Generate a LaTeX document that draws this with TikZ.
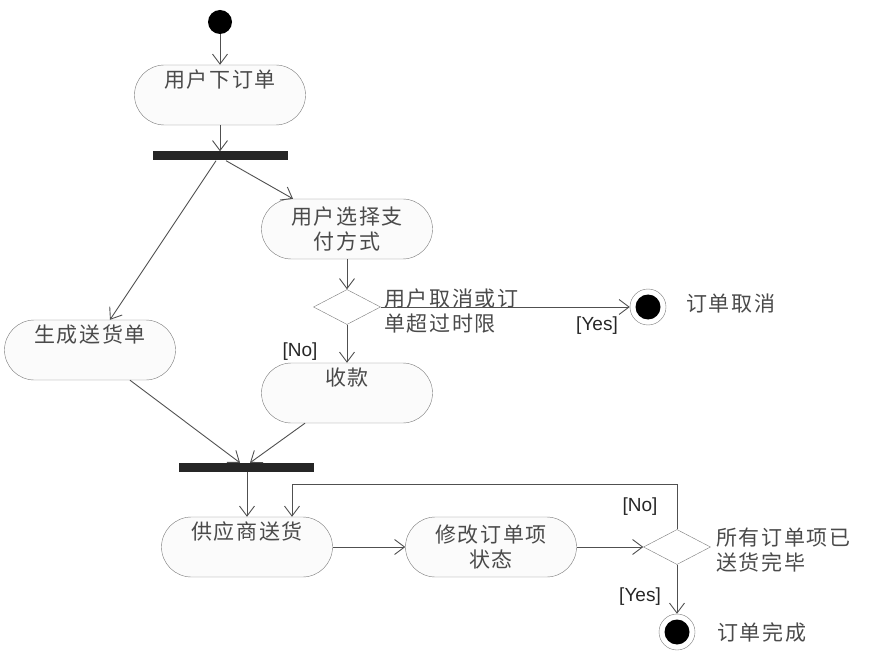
\documentclass[tikz,border=0pt]{standalone}
\usepackage{fontspec}
\setmainfont{Liberation Sans}
\newfontfamily\cjk[LetterSpace=8]{Noto Sans CJK SC}
\usetikzlibrary{shapes.misc,shapes.geometric,arrows.meta,positioning}

\definecolor{linegray}{HTML}{505050}
\definecolor{boxgray}{HTML}{7A7A7A}
\definecolor{boxfill}{HTML}{FBFBFB}
\definecolor{textgray}{HTML}{4A4A4A}

\tikzset{
  act/.style={rounded rectangle, draw=boxgray, fill=boxfill, minimum width=171pt,
    minimum height=60pt, inner sep=0pt, align=center,
    font={\cjk\fontsize{21}{25}\selectfont}, text=textgray},
  bar/.style={rectangle, fill=black!85, minimum width=135pt, minimum height=9pt, inner sep=0pt},
  decision/.style={diamond, draw=boxgray, fill=white, minimum width=67pt, minimum height=35pt, inner sep=0pt},
  startnode/.style={circle, fill=black, minimum size=24pt, inner sep=0pt},
  endnode/.style={circle, draw=boxgray, fill=white, minimum size=36pt, inner sep=0pt,
    path picture={\fill[black] (path picture bounding box.center) circle (12.5pt);}},
  note/.style={font={\cjk\fontsize{21}{25}\selectfont}, text=textgray, align=left, inner sep=0pt},
  guard/.style={font=\fontsize{19}{22}\selectfont, text=black!85, inner sep=0pt},
  flow/.style={draw=linegray, line width=0.9pt, -{Straight Barb[length=10pt,width=15pt,line width=0.9pt]}},
  plain/.style={draw=linegray, line width=0.9pt}
}

\begin{document}
\begin{tikzpicture}[x=1pt,y=-1pt]
  \useasboundingbox (0,0) rectangle (892,671);

  % 1. 起点与第一个分叉
  \node[startnode] (start) at (220,22) {};
  \node[act] (order) at (220,95) {用户下订单\\\strut};
  \node[bar] (fork) at (220,156) {};

  % 2. 两条并行分支
  \node[act] (pay) at (347,229) {用户选择支\\付方式};
  \node[decision] (cancel) at (347,307) {};
  \node[endnode] (cancelend) at (648,307) {};
  \node[act] (collect) at (347,393) {收款\\\strut};
  \node[act] (ship) at (90,350) {生成送货单\\\strut};

  % 3. 汇合后的送货流程
  \node[bar] (join) at (246,467.5) {};
  \node[act] (supply) at (247,547) {供应商送货\\\strut};
  \node[act] (modify) at (491,547) {修改订单项\\状态};
  \node[decision] (done) at (677,547) {};
  \node[endnode] (doneend) at (677,632) {};

  % 4. 说明文字
  \node[note, anchor=west] (cancelnote) at (384,311) {用户取消或订\\单超过时限};
  \node[note, anchor=west] (cancellabel) at (686,304) {订单取消};
  \node[note, anchor=west] (donenote) at (716,550) {所有订单项已\\送货完毕};
  \node[note, anchor=west] (donelabel) at (717,632) {订单完成};
  \node[guard] (cancelyes) at (597,326) {[Yes]};
  \node[guard] (cancelno) at (300,352) {[No]};
  \node[guard] (doneno) at (640,507) {[No]};
  \node[guard] (doneyes) at (640,597) {[Yes]};

  % 5. 连线
  \draw[flow] (start) -- (order.north);
  \draw[flow] (order.south) -- (fork.north);
  \draw[flow] ([xshift=-4pt]fork.south) -- ([xshift=20pt]ship.north);
  \draw[flow] ([xshift=6pt]fork.south) -- ([xshift=-54pt]pay.north);
  \draw[flow] (pay.south) -- (cancel.north);
  \draw[flow] (cancel.east) -- (cancelend.west);
  \draw[flow] (cancel.south) -- (collect.north);
  \draw[flow] ([xshift=40pt]ship.south) -- ([xshift=-6pt]join.north);
  \draw[flow] ([xshift=-42pt]collect.south) -- ([xshift=4pt]join.north);
  \draw[flow] ([xshift=1pt]join.south) -- (supply.north);
  \draw[flow] (supply.east) -- (modify.west);
  \draw[flow] (modify.east) -- (done.west);
  \draw[flow] (done.north) -- ++(0,-45) -| ([xshift=45pt]supply.north);
  \draw[flow] (done.south) -- (doneend.north);
\end{tikzpicture}
\end{document}
